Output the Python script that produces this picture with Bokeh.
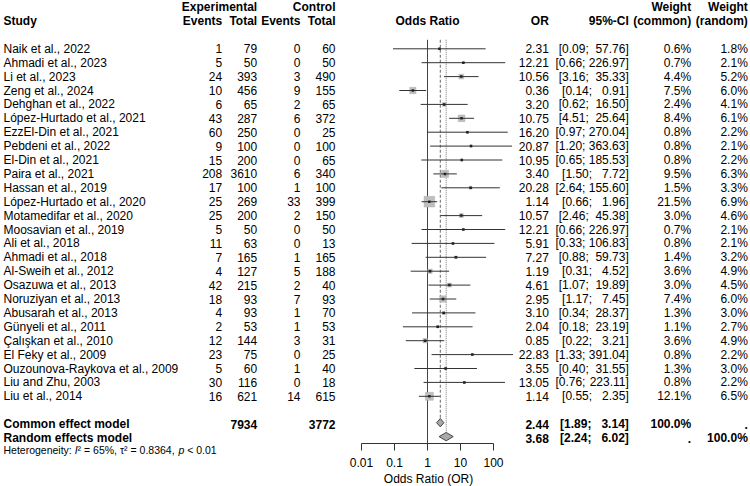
import numpy as np
from bokeh.plotting import figure
from bokeh.layouts import row
from bokeh.models import Range1d, FixedTicker, CustomJSTickFormatter
from bokeh.core.properties import value
from bokeh.embed import file_html
from bokeh.resources import INLINE

# ---------------------------------------------------------------- data
studies = [
    "Naik et al., 2022", "Ahmadi et al., 2023", "Li et al., 2023", "Zeng et al., 2024",
    "Dehghan et al., 2022", "López-Hurtado et al., 2021", "EzzEl-Din et al., 2021",
    "Pebdeni et al., 2022", "El-Din et al., 2021", "Paira et al., 2021", "Hassan et al., 2019",
    "López-Hurtado et al., 2020", "Motamedifar et al., 2020", "Moosavian et al., 2019",
    "Ali et al., 2018", "Ahmadi et al., 2018", "Al-Sweih et al., 2012", "Osazuwa et al., 2013",
    "Noruziyan et al., 2013", "Abusarah et al., 2013", "Günyeli et al., 2011",
    "Çalışkan et al., 2010", "El Feky et al., 2009", "Ouzounova-Raykova et al., 2009",
    "Liu and Zhu, 2003", "Liu et al., 2014",
]
exp_events = [1, 5, 24, 10, 6, 43, 60, 9, 15, 208, 17, 25, 25, 5, 11, 7, 4, 42, 18, 4, 2, 12, 23, 5, 30, 16]
exp_total = [79, 50, 393, 456, 65, 287, 250, 100, 200, 3610, 100, 269, 200, 50, 63, 165, 127, 215, 93, 93, 53, 144, 75, 60, 116, 621]
ctrl_events = [0, 0, 3, 9, 2, 6, 0, 0, 0, 6, 1, 33, 2, 0, 0, 1, 5, 2, 7, 1, 1, 3, 0, 1, 0, 14]
ctrl_total = [60, 50, 490, 155, 65, 372, 25, 100, 65, 340, 100, 399, 150, 50, 13, 165, 188, 40, 93, 70, 53, 31, 25, 40, 18, 615]
odds_ratio = [2.31, 12.21, 10.56, 0.36, 3.20, 10.75, 16.20, 20.87, 10.95, 3.40, 20.28, 1.14, 10.57,
              12.21, 5.91, 7.27, 1.19, 4.61, 2.95, 3.10, 2.04, 0.85, 22.83, 3.55, 13.05, 1.14]
ci_lower = [0.09, 0.66, 3.16, 0.14, 0.62, 4.51, 0.97, 1.20, 0.65, 1.50, 2.64, 0.66, 2.46,
            0.66, 0.33, 0.88, 0.31, 1.07, 1.17, 0.34, 0.18, 0.22, 1.33, 0.40, 0.76, 0.55]
ci_upper = [57.76, 226.97, 35.33, 0.91, 16.50, 25.64, 270.04, 363.63, 185.53, 7.72, 155.60, 1.96, 45.38,
            226.97, 106.83, 59.73, 4.52, 19.89, 7.45, 28.37, 23.19, 3.21, 391.04, 31.55, 223.11, 2.35]
weight_common = [0.6, 0.7, 4.4, 7.5, 2.4, 8.4, 0.8, 0.8, 0.8, 9.5, 1.5, 21.5, 3.0,
                 0.7, 0.8, 1.4, 3.6, 3.0, 7.4, 1.3, 1.1, 3.6, 0.8, 1.3, 0.8, 12.1]
weight_random = [1.8, 2.1, 5.2, 6.0, 4.1, 6.1, 2.2, 2.1, 2.2, 6.3, 3.3, 6.9, 4.6,
                 2.1, 2.1, 3.2, 4.9, 4.5, 6.0, 3.0, 2.7, 4.9, 2.2, 3.0, 2.2, 6.5]

pooled_labels = ["Common effect model", "Random effects model"]
pooled_or = [2.44, 3.68]
pooled_lower = [1.89, 2.24]
pooled_upper = [3.14, 6.02]
pooled_weight_common = ["100.0%", "."]
pooled_weight_random = [".", "100.0%"]
total_exp = 7934
total_ctrl = 3772

het_i2 = "65%"
het_tau2 = "0.8364"
het_p = "0.01"

axis_ticks = [0.01, 0.1, 1, 10, 100]

# ---------------------------------------------------------------- layout
FONT = "Liberation Sans"
FS = 12          # table font size (px)
FS_HET = 10.5    # heterogeneity line
ROW0_PX = 48.3   # centre of first study row
ROW_PX = 13.9    # row pitch
LEFT_W, MID_W, RIGHT_W = 340, 176, 234
NULL_PX = 87     # position of OR = 1 inside the forest panel
DECADE_PX = 33   # width of one decade on the OR axis
AXIS_PX = 443    # forest panel frame height (axis line)

n = len(studies)
rows = list(range(n))
pooled_rows = [n + 1, n + 2]

# Arial / Liberation Sans advance widths (em) for the characters used
_W = {c: 0.556 for c in "0123456789"}
_W.update({".": 0.278, " ": 0.278, "[": 0.278, "]": 0.278, ";": 0.278, ",": 0.278,
           ":": 0.278, "%": 0.889, "=": 0.584, "<": 0.584, "²": 0.333, "τ": 0.48,
           "H": 0.722, "e": 0.556, "t": 0.278, "r": 0.333, "o": 0.556, "g": 0.556,
           "n": 0.556, "i": 0.222, "y": 0.5, "I": 0.278, "p": 0.556})
_WB = dict(_W)
_WB.update({"[": 0.333, "]": 0.333, ";": 0.333})


def text_width(s, size, bold=False):
    table = _WB if bold else _W
    return sum(table.get(c, 0.556) for c in s) * size


def yrange(frame_h):
    return Range1d(start=(frame_h - ROW0_PX) / ROW_PX, end=-ROW0_PX / ROW_PX)


def panel(width, height, **kw):
    p = figure(frame_width=width, frame_height=height, toolbar_location=None,
               output_backend="svg", min_border=0, outline_line_color=None,
               background_fill_color="white", border_fill_color="white", **kw)
    p.grid.visible = False
    return p


def put(p, x, y, text, align="left", bold=False, italic=False, size=FS):
    style = "bold" if bold else ("italic" if italic else "normal")
    p.text(x=x, y=y, text=text, text_align=align, text_baseline="middle",
           text_font=value(FONT), text_font_size=f"{size}px",
           text_font_style=style, text_color="black")


# ---------------------------------------------------------------- left table
left = panel(LEFT_W, 486, x_range=Range1d(0, LEFT_W), y_range=yrange(486),
             x_axis_location=None, y_axis_location=None)

put(left, [256.7, 335], [-3, -3], ["Experimental", "Control"], align="right", bold=True)
put(left, [3], [-2], ["Study"], bold=True)
put(left, [221.7, 256.7, 300, 335], [-2] * 4, ["Events", "Total", "Events", "Total"],
    align="right", bold=True)

put(left, 3, rows, studies)
put(left, 221.7, rows, [str(v) for v in exp_events], align="right")
put(left, 256.7, rows, [str(v) for v in exp_total], align="right")
put(left, 300, rows, [str(v) for v in ctrl_events], align="right")
put(left, 335, rows, [str(v) for v in ctrl_total], align="right")

put(left, 3, pooled_rows, pooled_labels, bold=True)
put(left, [256.7, 335], [pooled_rows[0]] * 2, [str(total_exp), str(total_ctrl)],
    align="right", bold=True)

# heterogeneity line, assembled from plain and italic pieces
het_y = n + 2.85
het_pieces = [("Heterogeneity: ", False), ("I", True),
              (f"² = {het_i2}, τ² = {het_tau2}, ", False), ("p", True),
              (f" < {het_p}", False)]
hx = 3.0
plain_x, plain_t, ital_x, ital_t = [], [], [], []
for s, it in het_pieces:
    lead = len(s) - len(s.lstrip(" "))
    hx += text_width(" " * lead, FS_HET)
    s = s.lstrip(" ")
    (ital_x if it else plain_x).append(hx)
    (ital_t if it else plain_t).append(s.rstrip(" "))
    hx += text_width(s, FS_HET)
put(left, plain_x, [het_y] * len(plain_t), plain_t, size=FS_HET)
put(left, ital_x, [het_y] * len(ital_t), ital_t, italic=True, size=FS_HET)

# ---------------------------------------------------------------- forest panel
x_lo = 10 ** (-NULL_PX / DECADE_PX)
x_hi = 10 ** ((MID_W - NULL_PX) / DECADE_PX)
mid = panel(MID_W, AXIS_PX, x_axis_type="log", x_range=Range1d(x_lo, x_hi),
            y_range=yrange(AXIS_PX), y_axis_location=None, x_axis_location="below",
            min_border_bottom=43)
bottom_row = (AXIS_PX - ROW0_PX) / ROW_PX
top_row = -0.65
dia_h = 0.3
dia_shift = -0.1

LINE = "#333333"
mid.segment(x0=[1], x1=[1], y0=[top_row], y1=[bottom_row], line_color="#444444", line_width=1)
mid.segment(x0=[pooled_or[0]], x1=[pooled_or[0]], y0=[top_row],
            y1=[pooled_rows[0] + dia_shift - dia_h], line_color="#666666",
            line_width=1, line_dash="3 2")
mid.segment(x0=[pooled_or[1]], x1=[pooled_or[1]], y0=[top_row],
            y1=[pooled_rows[1] + dia_shift - dia_h], line_color="#777777",
            line_width=1, line_dash="1 1")

sq_size = 2.3 * np.sqrt(np.array(weight_common))
mid.scatter(x=odds_ratio, y=rows, size=sq_size, marker="square",
            fill_color="#BEBEBE", line_color="#B0B0B0", line_width=0.5)
mid.segment(x0=ci_lower, x1=ci_upper, y0=rows, y1=rows, line_color=LINE, line_width=1)
mid.scatter(x=odds_ratio, y=rows, size=2.5, marker="square",
            fill_color="#222222", line_color=None)

dia_xs = [[lo, est, hi, est] for lo, est, hi in zip(pooled_lower, pooled_or, pooled_upper)]
dia_ys = [[r + dia_shift, r + dia_shift - dia_h, r + dia_shift, r + dia_shift + dia_h]
          for r in pooled_rows]
mid.patches(xs=dia_xs, ys=dia_ys, fill_color="#A9A9A9", line_color="#444444", line_width=1)

put(mid, [1], [-2], ["Odds Ratio"], align="center", bold=True)

ax = mid.xaxis[0]
ax.ticker = FixedTicker(ticks=axis_ticks)
ax.formatter = CustomJSTickFormatter(code="return String(tick);")
ax.bounds = (axis_ticks[0], axis_ticks[-1])
ax.axis_line_color = LINE
ax.major_tick_line_color = LINE
ax.minor_tick_line_color = None
ax.major_tick_in = 0
ax.major_tick_out = 7
ax.major_label_standoff = 7
ax.major_label_text_font = FONT
ax.major_label_text_font_size = f"{FS}px"
ax.major_label_text_line_height = 1.0
ax.major_label_text_color = "black"
ax.axis_label = "Odds Ratio (OR)"
ax.axis_label_standoff = 2
ax.axis_label_text_font = FONT
ax.axis_label_text_font_size = f"{FS}px"
ax.axis_label_text_line_height = 1.0
ax.axis_label_text_font_style = "normal"
ax.axis_label_text_color = "black"

# ---------------------------------------------------------------- right table
x0r = LEFT_W + MID_W
right = panel(RIGHT_W, 486, x_range=Range1d(x0r, x0r + RIGHT_W), y_range=yrange(486),
              x_axis_location=None, y_axis_location=None)
OR_X, CI_X, WC_X, WR_X = 548.3, 628.3, 690.7, 747.3

put(right, [WC_X, WR_X], [-3, -3], ["Weight", "Weight"], align="right", bold=True)
put(right, [OR_X, CI_X, WC_X, WR_X], [-2] * 4, ["OR", "95%-CI", "(common)", "(random)"],
    align="right", bold=True)

all_upper = ci_upper + pooled_upper
up_w = max(len(f"{u:.2f}") for u in all_upper)


def ci_parts(lo, hi, bold):
    lo_s = f"[{lo:.2f};"
    hi_s = f"{hi:.2f}".rjust(up_w) + "]"
    full = lo_s + " " + hi_s
    return CI_X - text_width(full, FS, bold), lo_s, hi_s.strip()


def draw_rows(p, rws, ors, los, his, wc, wr, bold):
    put(p, OR_X, rws, [f"{v:.2f}" for v in ors], align="right", bold=bold)
    parts = [ci_parts(lo, hi, bold) for lo, hi in zip(los, his)]
    put(p, [q[0] for q in parts], rws, [q[1] for q in parts], bold=bold)
    put(p, CI_X, rws, [q[2] for q in parts], align="right", bold=bold)
    put(p, WC_X, rws, wc, align="right", bold=bold)
    put(p, WR_X, rws, wr, align="right", bold=bold)


draw_rows(right, rows, odds_ratio, ci_lower, ci_upper,
          [f"{w:.1f}%" for w in weight_common], [f"{w:.1f}%" for w in weight_random], False)
draw_rows(right, pooled_rows, pooled_or, pooled_lower, pooled_upper,
          pooled_weight_common, pooled_weight_random, True)

layout = row(left, mid, right, spacing=0)
open("out.html", "w").write(file_html(layout, INLINE))
